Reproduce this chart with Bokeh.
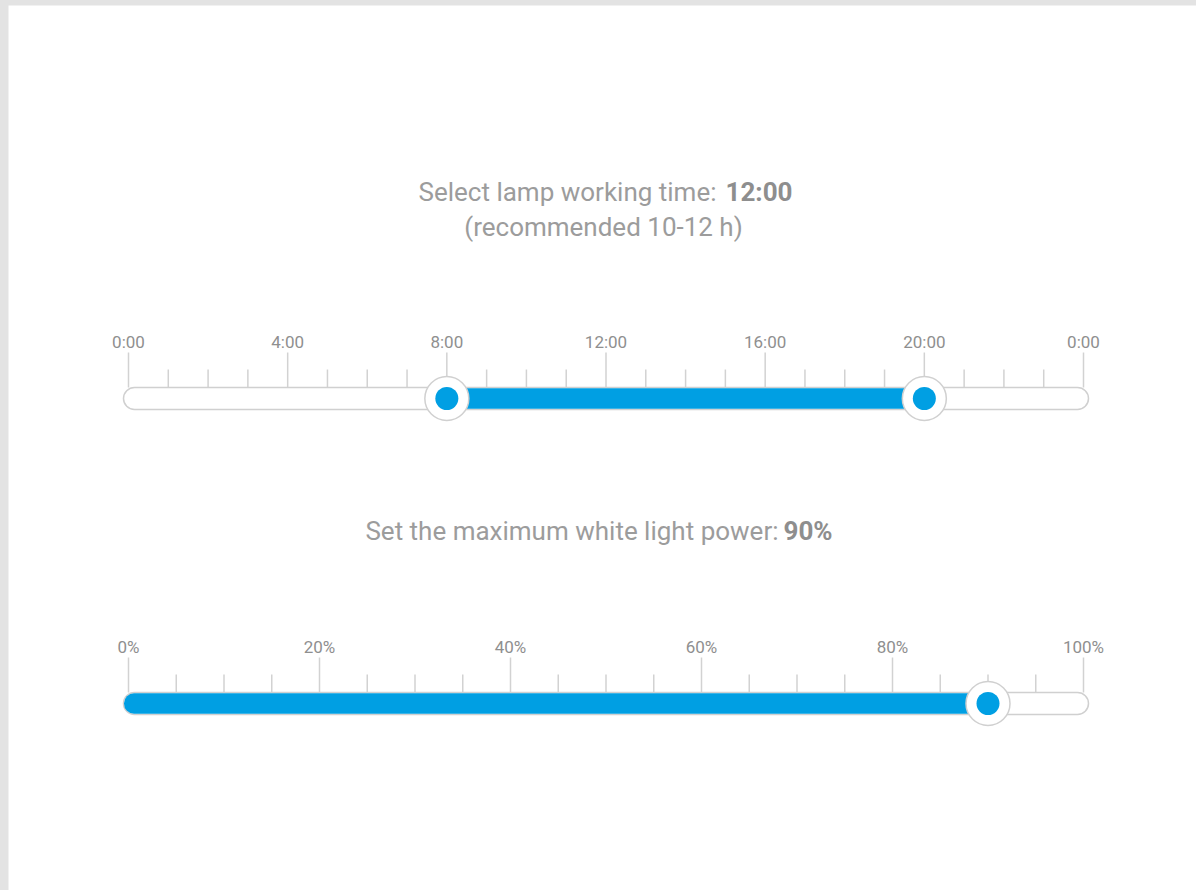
from bokeh.plotting import figure
from bokeh.models import Range1d, GlobalInlineStyleSheet
from bokeh.core.properties import value
from bokeh.embed import file_html
from bokeh.resources import INLINE

# ---------------- data ----------------
hour_major = [0, 4, 8, 12, 16, 20, 24]
hour_labels = ["0:00", "4:00", "8:00", "12:00", "16:00", "20:00", "0:00"]
hour_minor = [1, 2, 3, 5, 6, 7, 9, 10, 11, 13, 14, 15, 17, 18, 19, 21, 22, 23]
time_start = 8
time_end = 20
time_title = "Select lamp working time:"
time_value = "12:00"
time_note = "(recommended 10-12 h)"

pct_major = [0, 20, 40, 60, 80, 100]
pct_labels = ["0%", "20%", "40%", "60%", "80%", "100%"]
pct_minor = [5, 10, 15, 25, 30, 35, 45, 50, 55, 65, 70, 75, 85, 90, 95]
power_value = 90
power_title = "Set the maximum white light power:"
power_text = "90%"

# ---------------- layout ----------------
LEFT, TOP = 8, 5
W, H = 1188, 885
AX0, AX1 = 128, 1083          # page x of scale ends
FONT = value("Roboto")
BLUE = "#009fe3"
TICK = "#d2d2d2"
OUTLINE = "#d0d0d0"
TXT = "#9c9c9c"
TXT_B = "#8e8e8e"
LBL = "#8f8f8f"


def scale_range(lo, hi):
    k = (hi - lo) / (AX1 - AX0)
    return Range1d(lo - (AX0 - LEFT) * k, hi + (LEFT + W - AX1) * k), k


p = figure(width=W, height=H, output_backend="svg", toolbar_location=None,
           x_range=Range1d(LEFT, LEFT + W), y_range=Range1d(TOP + H, TOP),
           x_axis_location=None, y_axis_location=None, min_border=0,
           outline_line_color=None, background_fill_color="white",
           border_fill_color="white")
p.grid.visible = False

hr, kh = scale_range(hour_major[0], hour_major[-1])
pr, kp = scale_range(pct_major[0], pct_major[-1])
p.extra_x_ranges = {"hours": hr, "pct": pr}


def slider(rng, k, major, labels, minor, lo, hi, y_track, left_fill):
    # ticks
    p.segment(x0=major, x1=major, y0=[y_track - 35] * len(major), y1=[y_track] * len(major),
              line_color=TICK, line_width=1.5, x_range_name=rng)
    p.segment(x0=minor, x1=minor, y0=[y_track - 18] * len(minor), y1=[y_track] * len(minor),
              line_color=TICK, line_width=1.5, x_range_name=rng)
    p.text(x=major, y=[y_track - 46] * len(major), text=labels, text_font=FONT,
           text_font_size="17px", text_color=LBL, text_align="center",
           text_baseline="middle", x_range_name=rng)
    pad = 5 * k
    # track
    p.quad(left=[major[0] - pad], right=[major[-1] + pad], top=[y_track], bottom=[y_track + 22],
           fill_color="white", line_color=OUTLINE, line_width=1.5, border_radius=11,
           x_range_name=rng)
    # filled part
    if left_fill:
        p.quad(left=[major[0] - pad + 0.5 * k], right=[hi], top=[y_track + 0.8], bottom=[y_track + 21.2],
               fill_color=BLUE, line_color=None, border_radius=(10, 0, 0, 10), x_range_name=rng)
        handles = [hi]
    else:
        p.quad(left=[lo], right=[hi], top=[y_track + 0.8], bottom=[y_track + 21.2],
               fill_color=BLUE, line_color=None, x_range_name=rng)
        handles = [lo, hi]
    yc = [y_track + 11] * len(handles)
    p.scatter(x=handles, y=yc, size=44, marker="circle", fill_color="white",
              line_color=OUTLINE, line_width=1.5, x_range_name=rng)
    p.scatter(x=handles, y=yc, size=23, marker="circle", fill_color=BLUE,
              line_color=None, x_range_name=rng)


slider("hours", kh, hour_major, hour_labels, hour_minor, time_start, time_end, 387, False)
slider("pct", kp, pct_major, pct_labels, pct_minor, 0, power_value, 692, True)

# titles
p.text(x=[716], y=[191], text=[time_title], text_font=FONT, text_font_size="26px",
       text_color=TXT, text_align="right", text_baseline="middle")
p.text(x=[725], y=[191], text=[time_value], text_font=FONT, text_font_size="26px",
       text_font_style="bold", text_color=TXT_B, text_align="left", text_baseline="middle")
p.text(x=[603], y=[226], text=[time_note], text_font=FONT, text_font_size="26px",
       text_color=TXT, text_align="center", text_baseline="middle")
p.text(x=[778], y=[530], text=[power_title], text_font=FONT, text_font_size="26px",
       text_color=TXT, text_align="right", text_baseline="middle")
p.text(x=[783], y=[530], text=[power_text], text_font=FONT, text_font_size="26px",
       text_font_style="bold", text_color=TXT_B, text_align="left", text_baseline="middle")

p.stylesheets = [GlobalInlineStyleSheet(css="body{margin:5px 0 0 8px;background:#e3e3e3;overflow:hidden;}")]

open("out.html", "w").write(file_html(p, INLINE))
